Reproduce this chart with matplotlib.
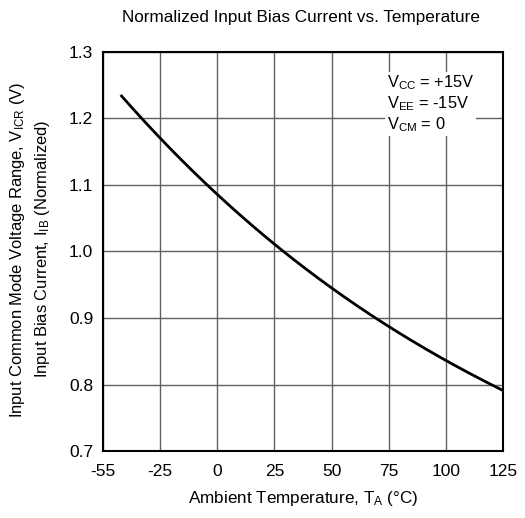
import numpy as np
import matplotlib
matplotlib.use("Agg")
import matplotlib.pyplot as plt

plt.rcParams['font.family'] = ['Liberation Sans', 'DejaVu Sans']
plt.rcParams['mathtext.fontset'] = 'custom'
plt.rcParams['mathtext.rm'] = 'Liberation Sans'
plt.rcParams['mathtext.it'] = 'Liberation Sans'

# data
tick_temps = [-55, -25, 0, 25, 50, 75, 100, 125]
tick_labels = ['-55', '-25', '0', '25', '50', '75', '100', '125']
temps = [-45.7, -25, 0, 25, 50, 75, 100, 125]
ib_norm = [1.234, 1.172, 1.088, 1.007, 0.946, 0.889, 0.836, 0.791]
y_ticks = [0.7, 0.8, 0.9, 1.0, 1.1, 1.2, 1.3]

tick_pos = np.arange(len(tick_temps), dtype=float)
def fwd(t):
    return np.interp(t, tick_temps, tick_pos)
def inv(p):
    return np.interp(p, tick_pos, tick_temps)

fig = plt.figure(figsize=(5.25, 5.18), dpi=100)
ax = fig.add_axes([0.196, 0.129, 0.762, 0.771])
ax.set_xscale('function', functions=(fwd, inv))

t_fine = np.linspace(temps[0], temps[-1], 300)
coef = np.polyfit(fwd(np.array(temps)), ib_norm, 3)
y_fine = np.polyval(coef, fwd(t_fine))
ax.plot(t_fine, y_fine, color='black', lw=2.0, solid_capstyle='butt', zorder=3)

ax.set_xlim(-55, 125)
ax.set_ylim(0.7, 1.3)
ax.set_xticks(tick_temps)
ax.set_xticklabels(tick_labels)
ax.set_yticks(y_ticks)
ax.set_yticklabels([f'{v:.1f}' for v in y_ticks])
ax.tick_params(length=0, labelsize=12.5, pad=7)
ax.tick_params(axis='x', pad=9)
ax.grid(True, color='#606060', lw=1.0)
ax.set_axisbelow(True)
for s in ax.spines.values():
    s.set_linewidth(1.5)
    s.set_color('black')

ax.text(0.71, 0.945,
        'V$_{\\mathregular{CC}}$ = +15V\nV$_{\\mathregular{EE}}$ = -15V\nV$_{\\mathregular{CM}}$ = 0',
        transform=ax.transAxes, fontsize=11.8, va='top', ha='left', linespacing=1.15,
        bbox=dict(facecolor='white', edgecolor='none', pad=1.5), zorder=4)

fig.text(0.573, 0.967, 'Normalized Input Bias Current vs. Temperature',
         ha='center', va='center', fontsize=12.3)
fig.text(0.577, 0.038, 'Ambient Temperature, T$_{\\mathregular{A}}$ (°C)',
         ha='center', va='center', fontsize=12.3)
fig.text(0.033, 0.517, 'Input Common Mode Voltage Range, V$_{\\mathregular{ICR}}$ (V)',
         ha='center', va='center', rotation=90, fontsize=11.9)
fig.text(0.081, 0.519, 'Input Bias Current, I$_{\\mathregular{IB}}$ (Normalized)',
         ha='center', va='center', rotation=90, fontsize=11.9)

fig.savefig('out.png', dpi=100)
